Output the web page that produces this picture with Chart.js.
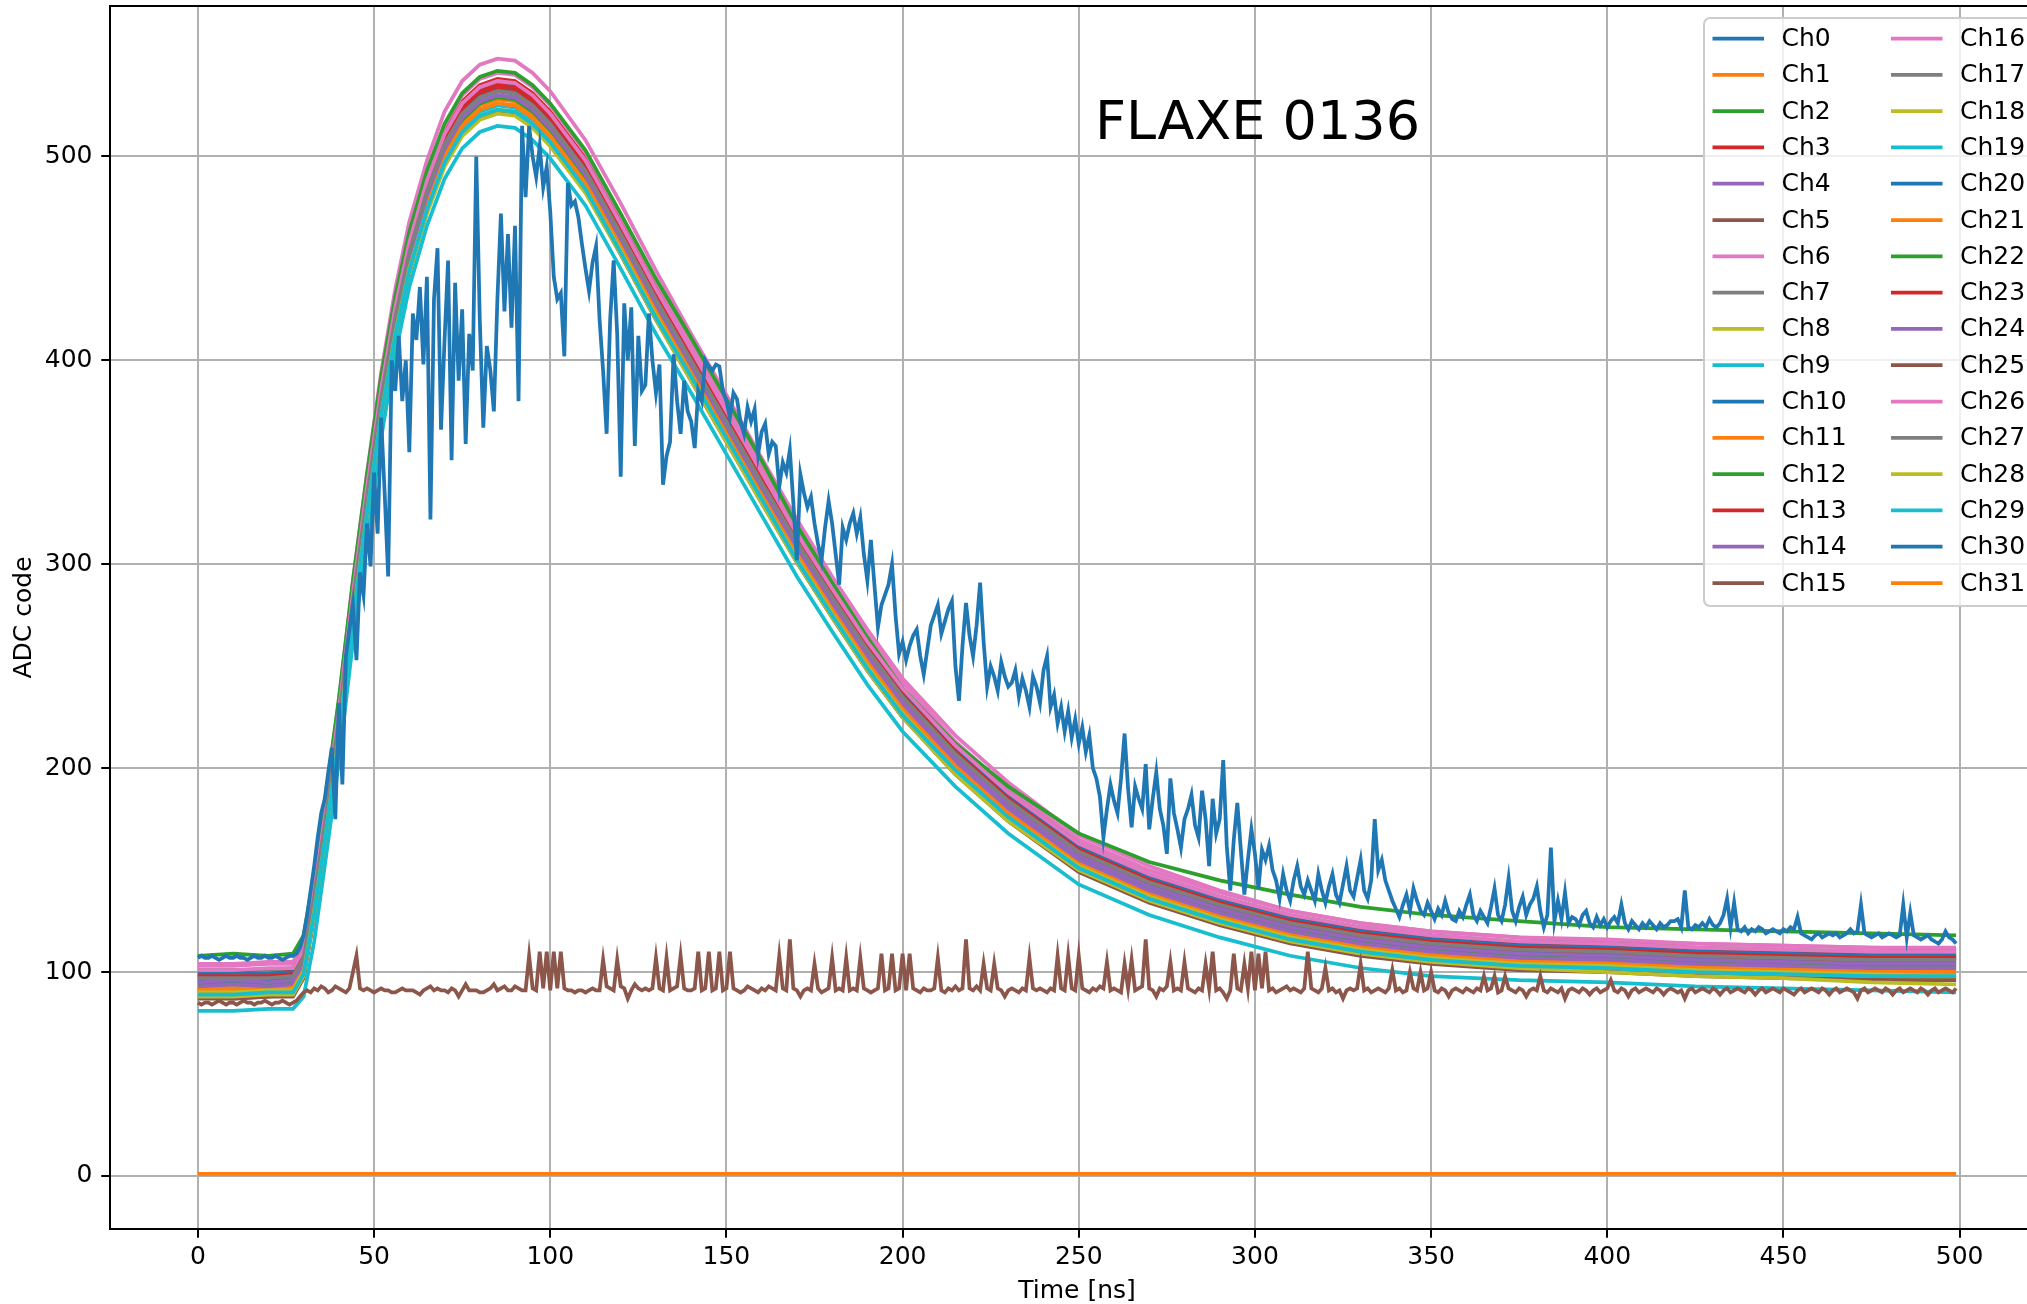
<!DOCTYPE html>
<html>
<head>
<meta charset="utf-8">
<title>FLAXE 0136</title>
<script src="https://cdn.jsdelivr.net/npm/chart.js@4.4.0/dist/chart.umd.min.js"></script>
<style>
  html, body { margin: 0; padding: 0; background: #fff; overflow: hidden; }
  #wrap { width: 2027px; height: 1304px; overflow: hidden; }
  canvas { display: block; }
</style>
</head>
<body>
<div id="wrap"><canvas id="waveChart" width="2060" height="1304"></canvas></div>
<script>
// sample times (ns) used for the smooth channels
const timeNs = [0, 10, 20, 27, 30, 33, 36, 40, 44, 48, 52, 56, 60, 65, 70, 75, 80, 85, 90, 95,
  100, 110, 120, 130, 140, 150, 160, 170, 180, 190, 200, 215, 230, 250, 270, 290, 310, 330, 350, 375,
  400, 425, 450, 475, 499];
// 1 ns sample index for the two noisy channels
const timeFine = Array.from({ length: 500 }, (_, i) => i);

// ADC codes
const ch0 = [98,99,98,99,108,138,173,225,283,335,383,423,455,485,508,523,531,534,533,527,518,495,464,432,402,372,342,312,285,259,236,208,185,160,145,134,125,119,115,112,110,109,108,107,107];
const ch1 = [93,92,93,94,103,133,168,220,278,329,377,417,449,479,502,517,525,528,527,521,512,489,458,426,396,366,336,307,280,254,231,203,180,155,140,129,120,114,110,107,106,104,103,102,102];
const ch2 = [100,101,100,101,110,140,175,227,285,338,386,426,458,488,511,526,534,537,536,530,521,498,467,435,405,375,345,314,287,261,238,210,187,162,147,136,127,121,117,114,113,111,110,109,109];
const ch3 = [99,100,100,101,110,140,175,228,286,338,386,427,459,489,512,527,535,538,537,531,522,499,468,436,405,375,345,315,288,262,239,210,187,162,147,136,127,121,117,114,112,111,110,109,108];
const ch4 = [96,96,97,97,106,136,171,223,281,333,381,421,453,483,506,521,529,532,531,525,516,493,462,430,400,370,340,310,283,257,234,206,183,158,143,132,123,117,113,110,109,107,106,105,105];
const ch5 = [88,87,88,89,98,128,163,214,272,324,372,411,443,473,496,511,519,522,521,515,506,483,452,420,391,361,331,301,274,248,225,198,175,150,135,124,115,109,105,102,101,99,98,97,97];
const ch6 = [104,104,105,105,114,145,180,233,292,345,394,435,468,498,522,537,545,548,547,541,532,508,477,444,413,383,352,322,294,268,244,216,193,167,152,140,130,124,120,117,115,114,113,112,112];
const ch7 = [98,98,99,99,108,138,173,225,283,334,382,422,454,484,507,522,530,533,532,526,517,494,463,431,401,371,341,312,285,259,236,208,185,160,145,134,125,119,115,112,111,109,108,107,107];
const ch8 = [89,89,90,90,99,129,163,215,273,324,372,412,444,473,496,511,519,522,521,515,506,483,453,421,391,361,331,302,275,249,226,198,175,151,136,125,116,110,106,103,102,100,99,98,97];
const ch9 = [91,91,92,92,101,131,166,217,275,327,375,414,446,476,499,514,522,525,524,518,509,486,455,423,394,364,334,304,277,251,228,201,178,153,138,127,118,112,108,105,104,102,101,100,100];
const ch10 = [95,95,96,96,105,135,170,222,280,333,381,421,453,483,506,521,529,532,531,525,516,493,462,430,400,370,340,309,282,256,233,205,182,157,142,131,122,116,112,109,108,106,105,104,104];
const ch11 = [92,92,93,93,102,132,167,218,276,328,376,415,447,477,500,515,523,526,525,519,510,487,456,424,395,365,335,305,278,252,229,202,179,154,139,128,119,113,109,106,105,103,102,101,101];
const ch12 = [94,94,94,95,104,134,169,221,279,330,378,418,450,480,503,518,526,529,528,522,513,490,459,427,397,367,337,308,281,255,232,204,181,156,141,130,121,115,111,108,107,105,104,103,103];
const ch13 = [97,97,98,98,107,137,172,224,282,335,383,423,455,485,508,523,531,534,533,527,518,495,464,432,402,372,342,311,284,258,235,207,184,159,144,133,124,118,114,111,110,108,107,106,106];
const ch14 = [93,94,93,94,103,133,168,220,278,331,379,419,451,481,504,519,527,530,529,523,514,491,460,428,398,368,338,307,280,254,231,203,180,155,140,129,120,114,110,107,106,104,103,102,102];
const ch15 = [87,87,88,88,97,127,162,214,272,323,371,411,443,473,496,511,519,522,521,515,506,483,452,420,390,360,330,301,274,248,225,197,174,149,134,123,114,108,104,101,100,98,97,96,96];
const ch16 = [103,103,104,104,113,143,178,231,289,341,389,430,462,492,515,530,538,541,540,534,525,502,471,439,408,378,348,318,291,265,242,213,190,165,150,139,130,124,120,117,116,114,113,112,111];
const ch17 = [101,101,101,102,111,141,176,228,286,337,385,425,457,487,510,525,533,536,535,529,520,497,466,434,404,374,344,315,288,262,239,211,188,163,148,137,128,122,118,115,114,112,111,110,110];
const ch18 = [88,88,89,89,98,128,162,214,272,323,371,411,443,472,495,510,518,521,520,514,505,482,452,420,390,360,330,301,274,248,225,197,174,150,135,124,115,109,105,102,100,98,97,95,94];
const ch19 = [81,81,82,82,88,115,152,203,262,312,362,403,436,466,489,504,512,515,514,508,499,476,445,413,384,354,324,294,267,241,218,191,168,143,128,117,108,102,98,96,95,93,92,91,90];
const ch20 = [99,100,99,100,109,139,174,226,284,336,384,424,456,486,509,524,532,535,534,528,519,496,465,433,403,373,343,313,286,260,237,209,186,161,146,135,126,120,116,113,112,110,109,108,108];
const ch21 = [91,91,91,92,101,131,166,218,276,327,375,415,447,477,500,515,523,526,525,519,510,487,456,424,394,364,334,305,278,252,229,201,178,153,138,127,118,112,108,105,104,102,101,100,100];
const ch22 = [108,109,108,109,118,148,183,234,292,344,392,431,463,493,516,531,539,542,541,535,526,503,472,440,411,381,351,319,291,264,239,212,191,168,154,145,138,132,128,125,122,121,120,119,118];
const ch23 = [98,98,98,99,108,138,173,225,283,336,384,424,456,486,509,524,532,535,534,528,519,496,465,433,403,373,343,312,285,259,236,208,185,160,145,134,125,119,115,112,111,109,108,107,107];
const ch24 = [95,96,95,96,105,135,170,222,280,331,379,419,451,481,504,519,527,530,529,523,514,491,460,428,398,368,338,309,282,256,233,205,182,157,142,131,122,116,112,109,108,106,105,104,104];
// Ch25: no pulse, just the noisy pedestal (1 ns samples)
const ch25 = [
  85,84,85,85,84,85,86,85,84,85,85,84,85,86,85,85,84,85,85,86,
  85,84,85,85,86,85,84,85,86,88,90,91,90,92,91,93,92,90,91,93,
  92,91,90,92,100,108,92,91,92,91,90,91,92,91,91,90,90,91,92,91,
  91,91,90,89,91,92,93,91,92,91,91,90,92,91,88,91,94,91,91,91,
  90,90,91,92,94,91,92,93,91,91,93,92,91,91,108,92,91,110,92,110,
  91,110,92,110,92,91,91,90,91,91,90,91,92,91,91,106,93,92,91,106,
  93,92,87,91,94,92,91,92,91,92,107,92,91,107,91,92,93,108,92,91,
  91,92,110,91,92,110,91,92,110,91,92,110,92,91,90,91,93,92,91,90,
  92,91,93,92,91,108,92,91,116,92,91,88,91,92,91,104,92,90,91,92,
  107,91,92,91,107,91,92,91,107,92,91,90,91,92,109,91,92,109,91,92,
  109,91,109,92,91,90,92,91,91,92,107,91,90,92,91,93,91,92,116,92,
  91,93,91,104,92,91,104,92,91,88,91,92,91,90,92,91,107,92,91,92,
  91,90,92,91,108,92,91,108,92,91,108,92,91,90,92,91,93,92,105,91,
  92,91,90,104,92,106,91,92,93,116,92,91,88,92,91,93,105,91,92,91,
  105,92,91,90,92,91,104,92,110,91,92,90,87,91,109,92,91,104,92,110,
  91,109,92,110,91,92,90,91,92,93,91,92,91,90,92,110,92,91,90,92,
  102,91,92,90,91,87,91,92,91,92,104,91,92,90,91,92,91,90,92,101,
  91,92,90,91,100,92,91,100,91,92,100,91,90,92,91,88,91,92,91,90,
  92,91,90,92,91,98,91,92,98,90,91,98,92,91,90,92,91,88,91,92,
  91,98,91,90,92,91,90,92,87,91,92,91,90,92,91,89,91,92,90,91,
  92,96,91,90,92,91,88,91,92,90,91,92,91,90,92,91,89,91,92,91,
  90,91,87,91,92,90,91,92,91,90,92,91,89,91,92,90,91,92,91,90,
  92,91,89,91,92,90,91,92,91,90,92,91,90,89,91,92,90,91,92,91,
  90,92,91,89,91,92,90,91,92,91,90,87,91,92,90,91,92,91,90,92,
  91,89,91,92,90,91,92,91,90,92,91,89,91,92,90,91,92,91,90,92
];
const ch26 = [101,101,102,102,111,141,176,228,286,338,386,426,458,488,511,526,534,537,536,530,521,498,467,435,405,375,345,315,288,262,239,211,188,163,148,137,128,122,118,115,114,112,111,110,110];
const ch27 = [97,97,97,98,107,137,172,224,282,333,381,421,453,483,506,521,529,532,531,525,516,493,462,430,400,370,340,311,284,258,235,207,184,159,144,133,124,118,114,111,110,108,107,106,106];
const ch28 = [90,90,91,91,100,130,164,216,274,325,373,413,445,474,497,512,520,523,522,516,507,484,454,422,392,362,332,303,276,250,227,199,176,152,137,126,117,111,107,104,103,101,100,99,98];
const ch29 = [89,89,90,90,99,129,164,215,273,325,373,412,444,474,497,512,520,523,522,516,507,484,453,421,392,362,332,302,275,249,226,199,176,151,136,125,116,110,106,103,102,100,99,98,98];
// Ch30: the noisy one (1 ns samples)
const ch30 = [
  107,108,107,107,108,107,106,107,108,107,107,108,107,107,106,107,108,107,107,108,
  107,107,108,107,106,107,108,108,109,112,118,128,140,152,166,178,185,198,210,175,
  232,192,255,268,280,253,296,285,320,299,345,315,372,335,294,400,385,412,380,400,
  355,423,410,436,398,441,322,430,455,366,410,449,351,438,390,425,359,413,395,500,
  420,367,407,395,375,430,472,424,462,416,466,380,515,480,515,500,490,505,485,495,
  473,441,430,433,402,487,476,478,470,457,445,434,448,456,420,395,364,420,449,413,
  343,428,400,426,358,412,385,388,423,400,384,398,339,353,360,403,380,364,390,375,
  370,357,385,380,400,397,395,398,397,385,380,372,384,381,370,364,377,370,376,354,
  365,369,354,360,358,338,350,345,356,330,302,344,335,328,333,320,310,302,318,331,
  320,305,290,318,312,320,325,315,323,305,292,312,290,269,280,285,290,300,275,256,
  262,253,260,265,268,255,246,258,270,275,280,266,272,278,282,250,233,260,281,265,
  255,270,291,262,240,250,245,238,252,245,240,242,248,235,244,238,230,245,240,232,
  248,255,230,236,222,230,218,228,215,224,212,220,208,216,200,195,186,166,180,192,
  184,178,195,217,190,171,191,185,180,202,170,185,198,180,172,158,195,178,170,161,
  175,180,187,172,166,189,175,152,185,168,175,204,162,140,165,183,160,138,155,170,
  158,141,160,155,162,150,145,136,148,140,135,145,152,142,138,145,140,135,148,140,
  134,142,148,138,134,143,152,140,137,146,155,140,136,145,175,150,155,145,140,135,
  131,127,133,138,130,141,135,130,128,134,130,126,131,128,135,129,126,125,130,127,
  133,138,128,125,130,127,124,132,141,128,125,133,146,130,125,132,137,128,133,136,
  142,130,122,128,161,125,135,126,139,124,127,126,123,128,130,124,122,127,123,126,
  122,125,127,124,133,124,121,125,123,121,124,122,125,123,121,124,122,123,125,125,
  126,122,140,122,121,123,122,124,122,126,123,122,124,128,136,122,134,121,120,122,
  119,121,120,122,121,119,120,121,120,119,121,120,122,121,127,119,118,117,116,118,
  119,117,118,119,118,119,117,118,119,121,119,120,133,119,118,117,118,119,117,118,
  119,118,117,118,133,117,129,118,117,116,117,118,116,115,114,116,120,117,116,114
];
// Ch31: dead channel, sits at 1
const ch31 = [1,1,1,1,1,1,1,1,1,1,1,1,1,1,1,1,1,1,1,1,1,1,1,1,1,1,1,1,1,1,1,1,1,1,1,1,1,1,1,1,1,1,1,1,1];

const xTicks = [0, 50, 100, 150, 200, 250, 300, 350, 400, 450, 500];
const yTicks = [0, 100, 200, 300, 400, 500];

const tab10 = ['#1f77b4', '#ff7f0e', '#2ca02c', '#d62728', '#9467bd',
  '#8c564b', '#e377c2', '#7f7f7f', '#bcbd22', '#17becf'];

const channels = [ch0, ch1, ch2, ch3, ch4, ch5, ch6, ch7, ch8, ch9, ch10, ch11, ch12, ch13, ch14, ch15,
  ch16, ch17, ch18, ch19, ch20, ch21, ch22, ch23, ch24, ch25, ch26, ch27, ch28, ch29, ch30, ch31];
const fineChannels = [25, 30];

const FONT = 'DejaVu Sans';
const tickFont = { family: FONT, size: 25 };
const titleFont = { family: FONT, size: 25, lineHeight: 1 };

function makePoints(times, values) {
  return values.map((v, k) => ({ x: times[k], y: v }));
}

const datasets = channels.map((values, i) => ({
  label: 'Ch' + i,
  data: makePoints(fineChannels.includes(i) ? timeFine : timeNs, values),
  borderColor: tab10[i % 10],
  borderWidth: 3.75,
  pointRadius: 0,
  fill: false,
  tension: 0,
  order: channels.length - 1 - i // later channels on top, like matplotlib
}));

// top/right spines (left and bottom come from the axis borders)
const frameLines = {
  id: 'frameLines',
  afterDatasetsDraw(chart) {
    const { ctx, chartArea: a } = chart;
    ctx.save();
    ctx.strokeStyle = '#000';
    ctx.lineWidth = 2;
    ctx.beginPath();
    ctx.moveTo(a.left, a.top);
    ctx.lineTo(a.right, a.top);
    ctx.lineTo(a.right, a.bottom);
    ctx.stroke();
    ctx.restore();
  }
};

// the big label inside the axes
const boardLabel = {
  id: 'boardLabel',
  afterDatasetsDraw(chart) {
    const ctx = chart.ctx;
    ctx.save();
    ctx.font = '54px "' + FONT + '"';
    ctx.fillStyle = '#000';
    ctx.textAlign = 'left';
    ctx.textBaseline = 'alphabetic';
    ctx.fillText('FLAXE 0136', 1095, 139);
    ctx.restore();
  }
};

// two column legend in the upper right corner
const channelLegend = {
  id: 'channelLegend',
  afterDraw(chart) {
    const ctx = chart.ctx;
    const sets = chart.data.datasets;
    const perCol = Math.ceil(sets.length / 2);
    ctx.save();
    ctx.fillStyle = 'rgba(255,255,255,0.8)';
    ctx.strokeStyle = '#cccccc';
    ctx.lineWidth = 2;
    ctx.beginPath();
    ctx.roundRect(1704, 18, 330, 588, 6);
    ctx.fill();
    ctx.stroke();

    ctx.font = '25px "' + FONT + '"';
    ctx.textAlign = 'left';
    ctx.textBaseline = 'middle';
    sets.forEach((ds, i) => {
      const col = Math.floor(i / perCol);
      const row = i % perCol;
      const x0 = col === 0 ? 1712.5 : 1891;
      const y = 38.5 + row * 36.3;
      ctx.strokeStyle = ds.borderColor;
      ctx.lineWidth = 3.75;
      ctx.beginPath();
      ctx.moveTo(x0, y);
      ctx.lineTo(x0 + 51.5, y);
      ctx.stroke();
      ctx.fillStyle = '#000';
      ctx.fillText(ds.label, x0 + 69, y + 1);
    });
    ctx.restore();
  }
};

const axisGrid = {
  color: '#b0b0b0',
  lineWidth: 2,
  tickColor: '#000',
  tickWidth: 2,
  tickLength: 8.75
};

function createWaveChart() {
  const ctx = document.getElementById('waveChart').getContext('2d');
  return new Chart(ctx, {
    type: 'line',
    data: { datasets: datasets },
    options: {
      responsive: false,
      animation: false,
      devicePixelRatio: 1,
      events: [],
      layout: { padding: { top: 6, right: 16, left: 0, bottom: 0 } },
      plugins: {
        legend: { display: false },
        tooltip: { enabled: false }
      },
      scales: {
        x: {
          type: 'linear',
          min: -24.95,
          max: 523.95,
          afterBuildTicks: (s) => { s.ticks = xTicks.map(v => ({ value: v })); },
          afterFit: (s) => { s.height = 75; s.paddingLeft = 0; s.paddingRight = 0; },
          ticks: { font: tickFont, color: '#000', padding: 5, maxRotation: 0, autoSkip: false },
          grid: axisGrid,
          border: { color: '#000', width: 2 },
          title: { display: true, text: 'Time [ns]', font: titleFont, color: '#000', padding: { top: 0, bottom: 0 } }
        },
        y: {
          type: 'linear',
          min: -26,
          max: 573.8,
          afterBuildTicks: (s) => { s.ticks = yTicks.map(v => ({ value: v })); },
          afterFit: (s) => { s.width = 110; s.paddingTop = 0; s.paddingBottom = 0; },
          ticks: { font: tickFont, color: '#000', padding: 8.75 },
          grid: axisGrid,
          border: { color: '#000', width: 2 },
          title: { display: true, text: 'ADC code', font: tickFont, color: '#000', padding: { top: 9, bottom: 0 } }
        }
      }
    },
    plugins: [frameLines, boardLabel, channelLegend]
  });
}

createWaveChart();
</script>
</body>
</html>
